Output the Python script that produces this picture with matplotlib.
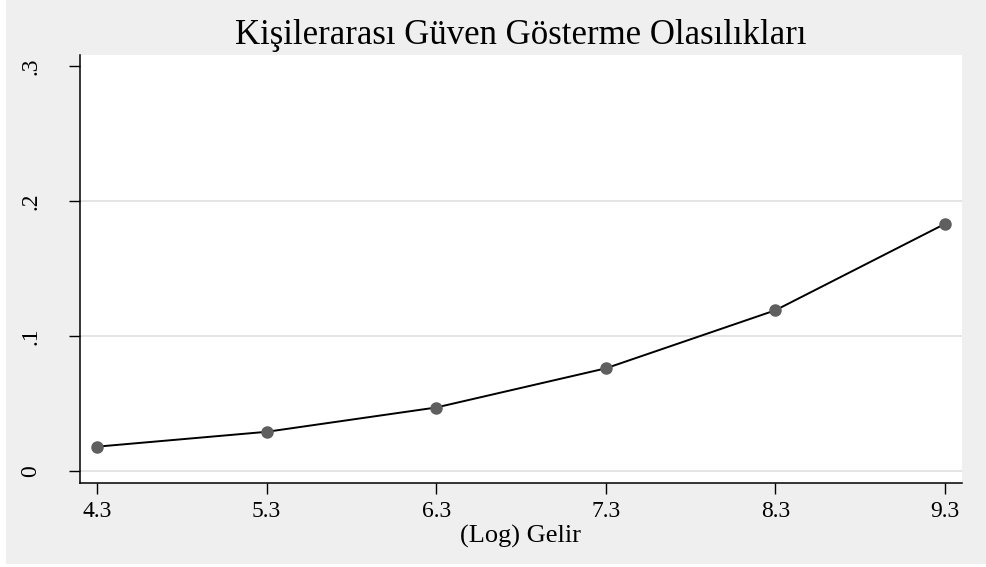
import numpy as np
import matplotlib
matplotlib.use("Agg")
import matplotlib.pyplot as plt
from matplotlib.patches import Rectangle

# donnees
log_gelir = [4.3, 5.3, 6.3, 7.3, 8.3, 9.3]
olasilik = [0.018, 0.029, 0.047, 0.076, 0.119, 0.183]
y_ticks = [0, 0.1, 0.2, 0.3]
y_labels = ["0", ".1", ".2", ".3"]
x_ticks = [4.3, 5.3, 6.3, 7.3, 8.3, 9.3]
x_labels = ["4.3", "5.3", "6.3", "7.3", "8.3", "9.3"]

plt.rcParams['font.family'] = ['Liberation Serif', 'DejaVu Serif']

fig = plt.figure(figsize=(9.86, 5.67), dpi=100, facecolor='white')
# fond gris style Stata
fig.patches.append(Rectangle((6 / 986, 3 / 567), 1, 1, transform=fig.transFigure,
                             facecolor='#efefef', edgecolor='none', zorder=-10))

ax = fig.add_axes([80 / 986, 1 - 483 / 567, 882 / 986, 428 / 567])
ax.set_facecolor('white')

for yv in y_ticks[:-1]:
    ax.axhline(yv, color='#e4e4e4', lw=1.4, zorder=1)

ax.plot(log_gelir, olasilik, color='black', lw=1.4, zorder=2,
        marker='o', markersize=8, markerfacecolor='#5f5f5f', markeredgecolor='#5f5f5f')

ax.set_xlim(4.2, 9.4)
ax.set_ylim(-0.0089, 0.308)

ax.set_xticks(x_ticks)
ax.set_xticklabels(x_labels, fontsize=17)
ax.set_yticks(y_ticks)
ax.set_yticklabels(y_labels, fontsize=17, rotation=90, va='center')

ax.tick_params(axis='both', direction='out', length=8, width=1, color='black')
ax.tick_params(axis='x', pad=5)
ax.tick_params(axis='y', pad=20)

for s in ['top', 'right']:
    ax.spines[s].set_visible(False)
for s in ['left', 'bottom']:
    ax.spines[s].set_linewidth(1.1)

ax.set_xlabel('(Log) Gelir', fontsize=19, labelpad=2)
ax.set_title('Kişilerarası Güven Gösterme Olasılıkları', fontsize=25, pad=8)

fig.savefig('out.png', dpi=100, facecolor=fig.get_facecolor())
